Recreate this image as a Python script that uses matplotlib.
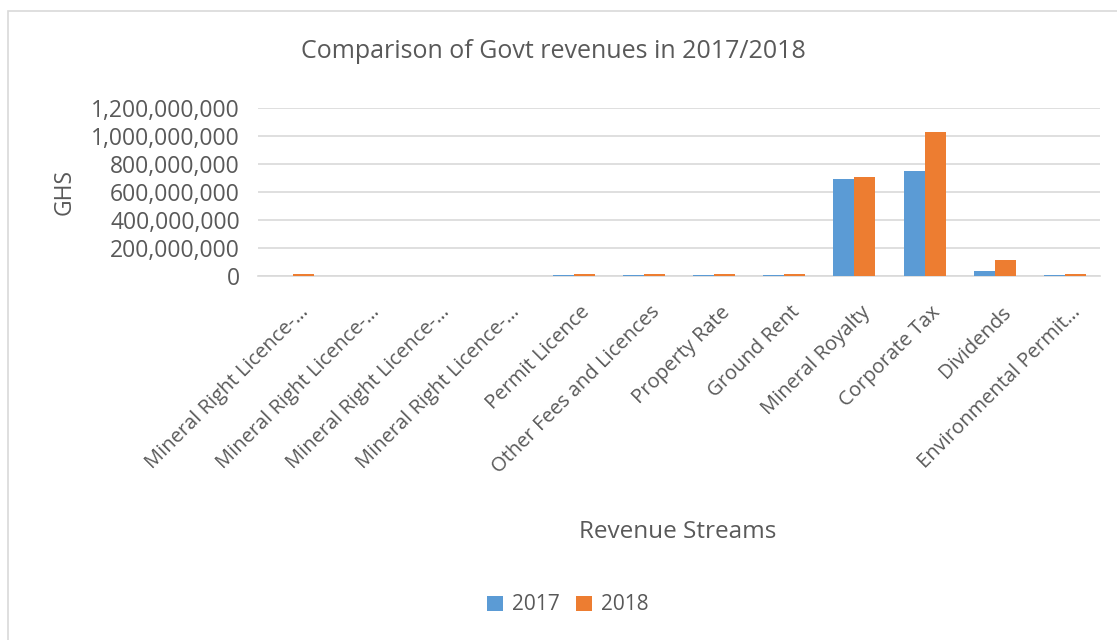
import matplotlib
matplotlib.use("Agg")
import matplotlib.pyplot as plt
import matplotlib.transforms as mtransforms
import numpy as np
from matplotlib.patches import Rectangle
from matplotlib.ticker import FuncFormatter

plt.rcParams['font.family'] = ['Open Sans', 'DejaVu Sans']

categories = [
    "Mineral Right Licence-…",
    "Mineral Right Licence-…",
    "Mineral Right Licence-…",
    "Mineral Right Licence-…",
    "Permit Licence",
    "Other Fees and Licences",
    "Property Rate",
    "Ground Rent",
    "Mineral Royalty",
    "Corporate Tax",
    "Dividends",
    "Environmental Permit…",
]
rev_2017 = [0, 0, 0, 0, 10e6, 10e6, 10e6, 10e6, 690e6, 750e6, 38e6, 10e6]
rev_2018 = [15e6, 0, 0, 0, 12e6, 12e6, 12e6, 12e6, 705e6, 1030e6, 114e6, 12e6]
series_labels = ["2017", "2018"]
y_ticks = [0, 200e6, 400e6, 600e6, 800e6, 1000e6, 1200e6]

BLUE = "#5B9BD5"
ORANGE = "#ED7D31"
TEXT = "#595959"
GRID = "#D9D9D9"

W, H = 1117, 640
fig = plt.figure(figsize=(W / 100, H / 100), dpi=100)
fig.patch.set_facecolor("white")

# chart-area frame
fig.patches.append(Rectangle((8 / W, -0.05), 1.2, 1 - 11 / H + 0.05,
                             transform=fig.transFigure, fill=False,
                             edgecolor="#D9D9D9", linewidth=1.2))

left, right = 258 / W, 1100 / W
bottom, top = 1 - 276 / H, 1 - 108 / H
ax = fig.add_axes([left, bottom, right - left, top - bottom])

x = np.arange(len(categories))
bw = 0.3
ax.bar(x - bw / 2, rev_2017, bw, color=BLUE, label=series_labels[0], zorder=3)
ax.bar(x + bw / 2, rev_2018, bw, color=ORANGE, label=series_labels[1], zorder=3)

ax.set_xlim(-0.5, len(categories) - 0.5)
ax.set_ylim(0, 1.2e9)
ax.set_yticks(y_ticks)
ax.yaxis.set_major_formatter(FuncFormatter(lambda v, p: f"{int(v):,}"))
ax.grid(axis="y", color=GRID, linewidth=1.2, zorder=0)
for s in ["top", "right", "left"]:
    ax.spines[s].set_visible(False)
ax.spines["bottom"].set_color(GRID)
ax.spines["bottom"].set_linewidth(1.2)
ax.tick_params(axis="both", length=0, colors=TEXT)
ax.tick_params(axis="y", pad=13, labelsize=16.5)

ax.set_xticks(x)
ax.set_xticklabels(categories, rotation=45, ha="right", va="top",
                   rotation_mode="anchor", fontsize=14.5, color=TEXT)
ax.tick_params(axis="x", pad=19)
shift = mtransforms.ScaledTranslation(6 / 100, 0, fig.dpi_scale_trans)
for lbl in ax.get_xticklabels():
    lbl.set_transform(lbl.get_transform() + shift)

fig.text(65 / W, 1 - 192 / H, "GHS", rotation=90, ha="center", va="center",
         fontsize=16.5, color=TEXT)
fig.text(678 / W, 1 - 532 / H, "Revenue Streams", ha="center", va="center",
         fontsize=17.5, color=TEXT)
fig.text(553 / W, 1 - 52 / H, "Comparison of Govt revenues in 2017/2018",
         ha="center", va="center", fontsize=18, color=TEXT)

leg = fig.legend(loc="center", bbox_to_anchor=(568 / W, 1 - 605 / H),
                 ncol=2, frameon=False, fontsize=15, handlelength=0.75,
                 handleheight=0.75, handletextpad=0.45, columnspacing=0.8)
for t in leg.get_texts():
    t.set_color(TEXT)

fig.savefig("out.png", dpi=100, facecolor="white")
